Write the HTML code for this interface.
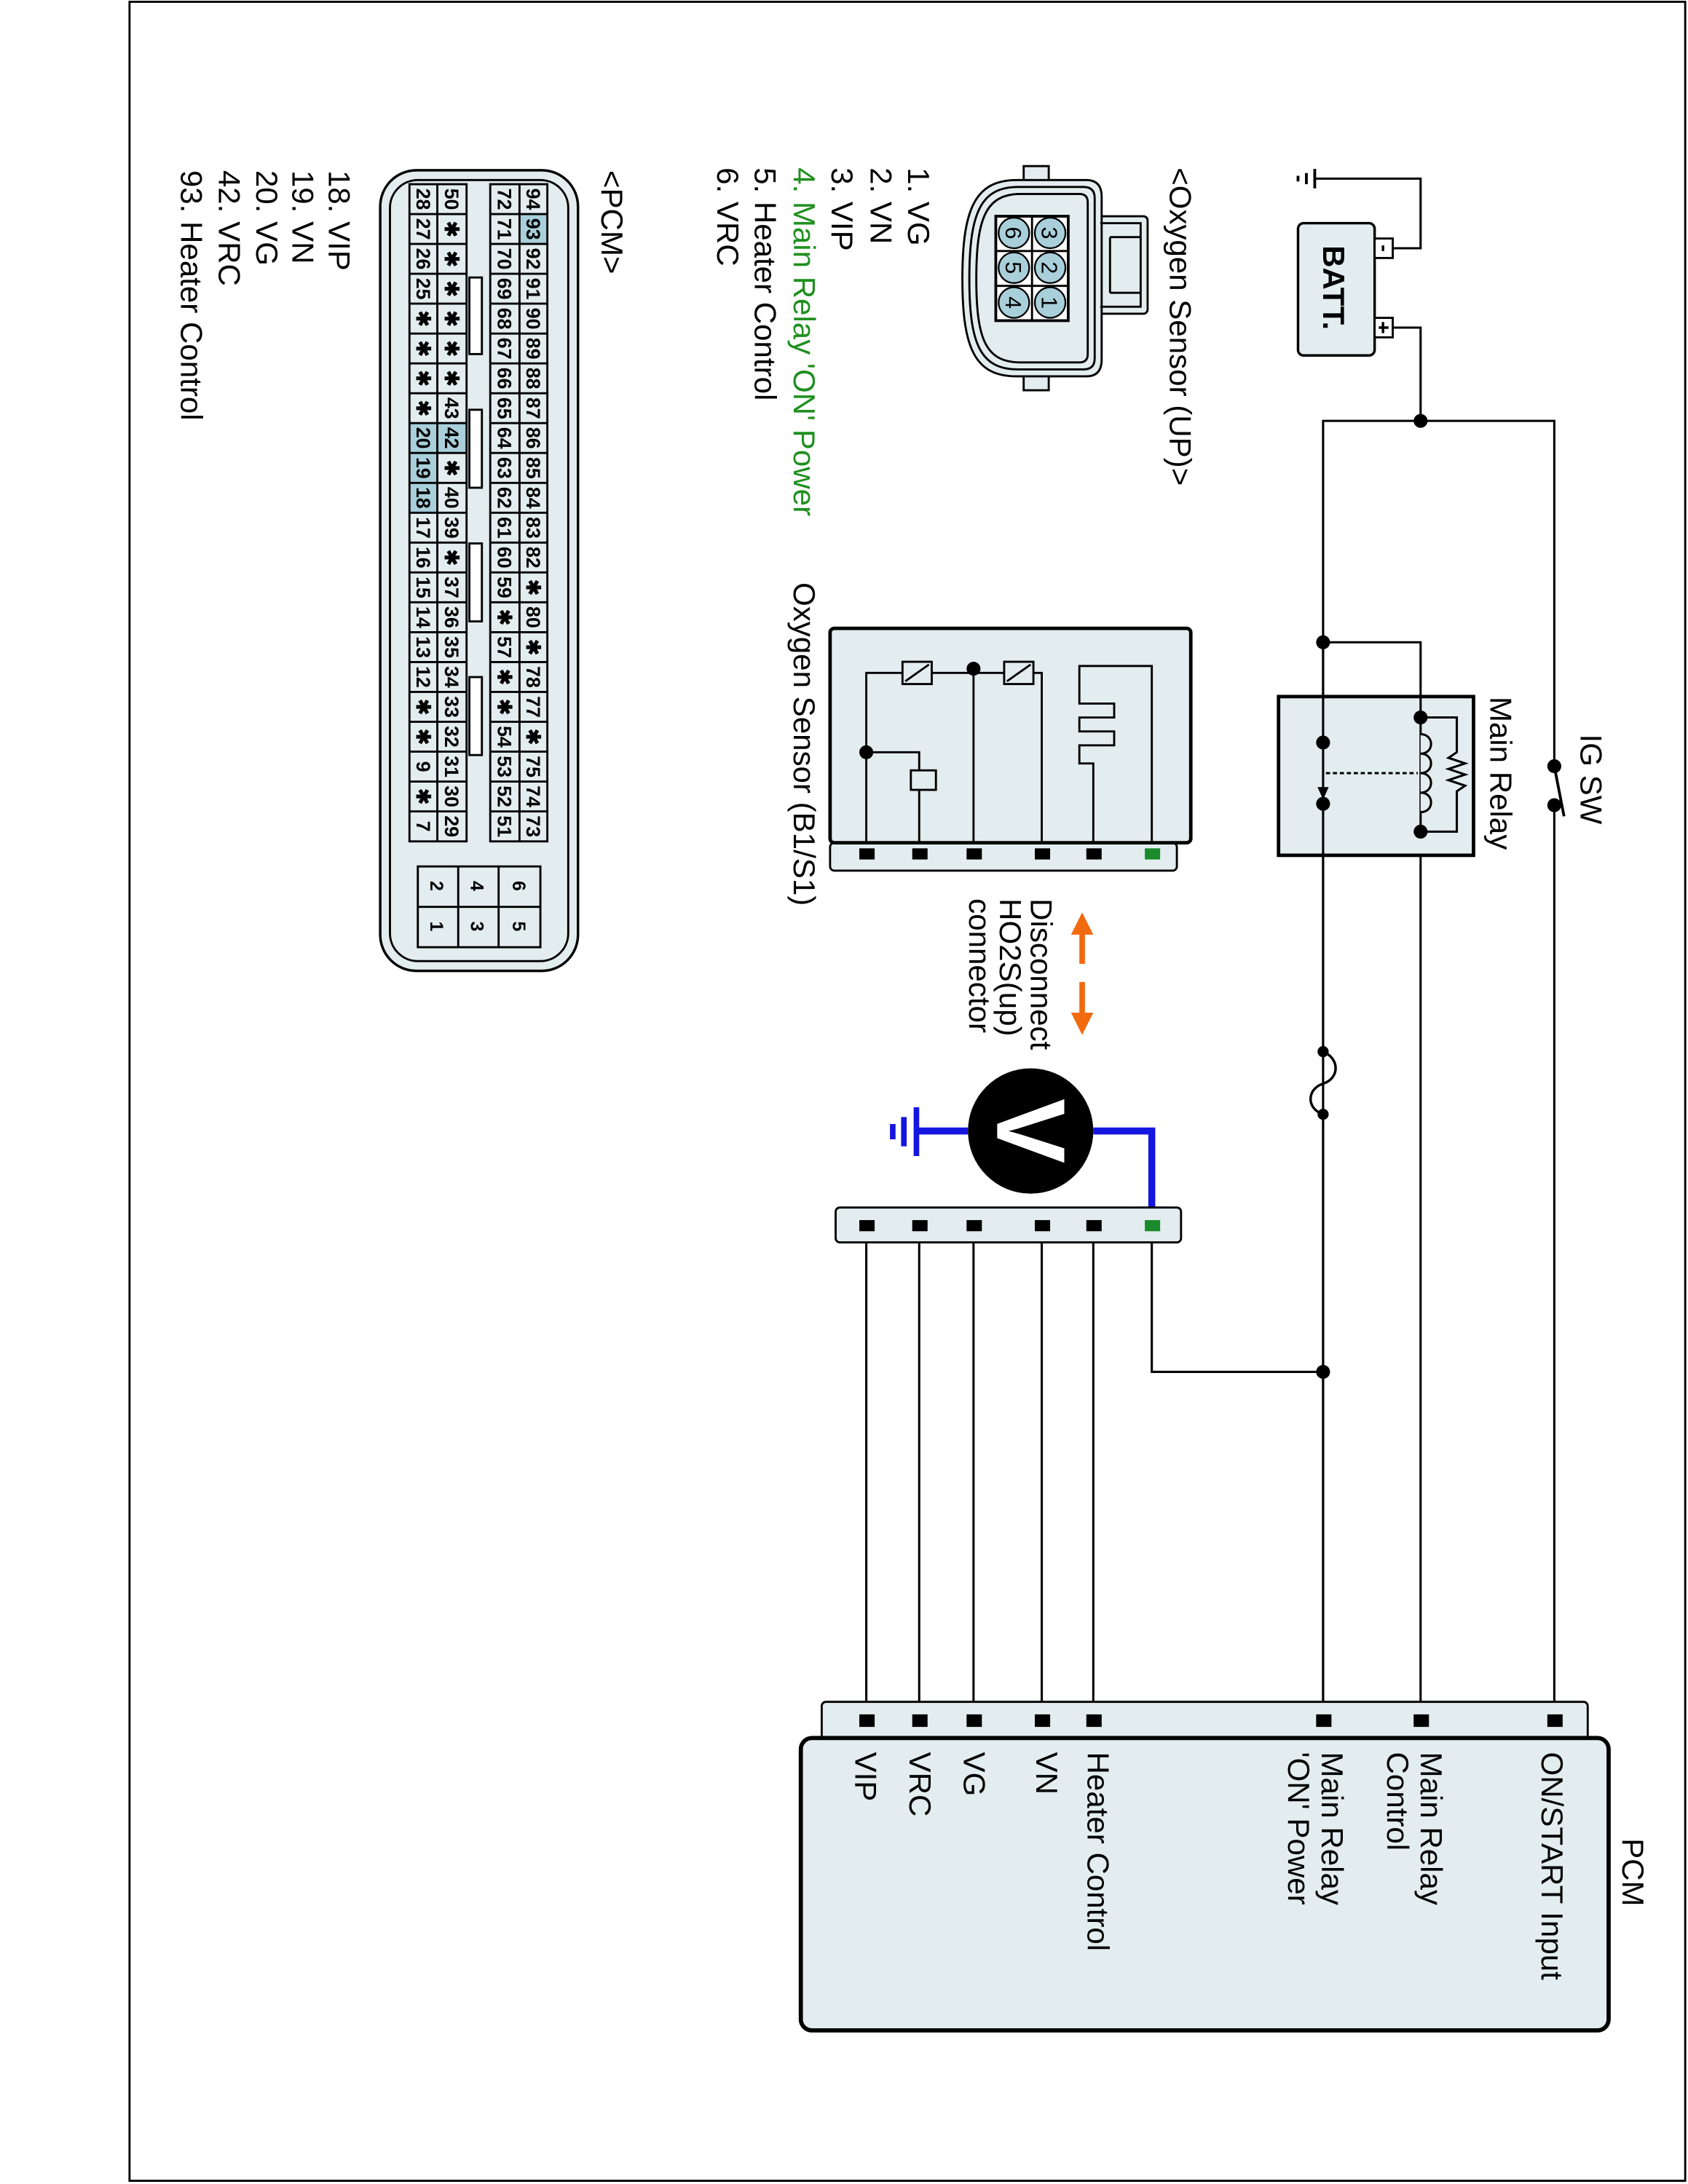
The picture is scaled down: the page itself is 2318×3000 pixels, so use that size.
<!DOCTYPE html>
<html><head><meta charset="utf-8"><style>
html,body{margin:0;padding:0;background:#fff}
svg{display:block}
text{font-family:"Liberation Sans",sans-serif}
.c{font-size:14px;font-weight:bold;text-anchor:middle}
.l{font-size:22px}
</style></head><body>
<svg width="2318" height="3000" viewBox="0 0 1212 1568" xmlns="http://www.w3.org/2000/svg">
<rect x="93" y="1" width="1117" height="1565" fill="none" stroke="#000" stroke-width="1.5"/>

<!-- wires -->
<g fill="none" stroke="#000" stroke-width="1.6">
<path d="M1000,178 H1020 V128 H944"/>
<path d="M944,121 V135 M938,124 V132 M932,126 V130" stroke-width="2"/>
<path d="M1000,235 H1020 V302"/>
<path d="M950,755 V302 H1116 V550"/>
<path d="M1116,578 V1235"/>
<path d="M1116,550 L1123,586" stroke-width="2"/>
<path d="M950,461 H1020 V515"/>
<path d="M1020,597 V1235"/>
<path d="M950,800 V1235"/>
<path d="M950,755 C962,760 962,774 950,778 C938,782 938,796 950,800" stroke-width="1.8"/>
<path d="M827,880 M827,892 V985 H950"/>
<path d="M622,880 V1235 M660,880 V1235 M699,880 V1235 M748,880 V1235 M785,880 V1235"/>
</g>

<!-- battery -->
<rect x="932" y="160" width="55" height="95" rx="4" fill="#e3edef" stroke="#000" stroke-width="1.8"/>
<rect x="987" y="171" width="13" height="14" fill="#fff" stroke="#000" stroke-width="1.5"/>
<rect x="987" y="228" width="13" height="14" fill="#fff" stroke="#000" stroke-width="1.5"/>
<path d="M993,176 V180 M990,235 H997 M993,231 V239" stroke="#000" stroke-width="1.8"/>
<text transform="translate(950,176) rotate(90)" style="font-size:22px;font-weight:bold">BATT.</text>

<!-- relay -->
<rect x="918" y="500" width="140" height="114" fill="#e3edef" stroke="#000" stroke-width="2.5"/>
<g fill="none" stroke="#000" stroke-width="1.6">
<path d="M950,461 V1235"/>
<path d="M1020,500 V597"/>
<path d="M1020,515 H1046 V540 l-6,4 l12,4 l-12,4 l12,4 l-12,4 l12,4 l-6,4 V597 H1020"/>
<path d="M1020,527 c10,0 10,14 0,14 c10,0 10,14 0,14 c10,0 10,14 0,14 c10,0 10,14 0,14" fill="#e3edef"/>
<path d="M952,555 H1018" stroke-dasharray="3,2"/>
</g>
<path d="M946,565 L954,565 L950,574 Z" fill="#000"/>
<g fill="#000">
<circle cx="1020" cy="302" r="5"/><circle cx="950" cy="461" r="5"/>
<circle cx="950" cy="533" r="5"/><circle cx="950" cy="577" r="5"/>
<circle cx="1020" cy="515" r="5"/><circle cx="1020" cy="597" r="5"/>
<circle cx="1116" cy="550" r="5"/><circle cx="1116" cy="578" r="5"/>
<circle cx="950" cy="755" r="4"/><circle cx="950" cy="800" r="4"/>
<circle cx="950" cy="985" r="5"/>
</g>
<text class="l" transform="translate(1070,500) rotate(90)">Main Relay</text>
<text class="l" transform="translate(1135,527) rotate(90)">IG SW</text>

<!-- sensor box -->
<rect x="596" y="605" width="249" height="20" rx="3" fill="#e3edef" stroke="#000" stroke-width="1.5"/>
<rect x="596" y="451" width="259" height="154" rx="3" fill="#e3edef" stroke="#000" stroke-width="2.5"/>
<g fill="none" stroke="#000" stroke-width="1.5">
<path d="M622,605 V483 H748 V605"/>
<path d="M699,480 V605"/>
<path d="M622,540 H660 V605"/>
<path d="M827,605 V478 H775 V505 H800 V515 H775 V525 H800 V535 H775 V548 H785 V605"/>
</g>
<g fill="#e3edef" stroke="#000" stroke-width="1.5">
<rect x="648" y="475" width="21" height="16"/><path d="M650,489 L667,477"/>
<rect x="721" y="475" width="21" height="16"/><path d="M723,489 L740,477"/>
<rect x="654" y="553" width="18" height="14"/>
</g>
<g fill="#000"><circle cx="699" cy="480" r="5"/><circle cx="622" cy="540" r="5"/></g>
<g fill="#000">
<rect x="617" y="609" width="11" height="8"/><rect x="655" y="609" width="11" height="8"/><rect x="694" y="609" width="11" height="8"/><rect x="743" y="609" width="11" height="8"/><rect x="780" y="609" width="11" height="8"/><rect x="822" y="609" width="11" height="8" fill="#1a8a2a"/>
</g>
<text class="l" transform="translate(570,418) rotate(90)">Oxygen Sensor (B1/S1)</text>

<!-- disconnect arrows -->
<g stroke="#f26a10" stroke-width="4" fill="#f26a10">
<path d="M777,692 V668" /><path d="M777,705 V730"/>
</g>
<path d="M777,655 L769,671 L785,671 Z M777,743 L769,727 L785,727 Z" fill="#f26a10"/>
<text class="l" transform="translate(740,645) rotate(90)">Disconnect</text>
<text class="l" transform="translate(718,645) rotate(90)">HO2S(up)</text>
<text class="l" transform="translate(696,645) rotate(90)">connector</text>

<!-- voltmeter -->
<path d="M827,880 V812 H785 M695,812 H658" fill="none" stroke="#1515e0" stroke-width="5"/>
<path d="M658,795 V830 M649,802 V823 M641,807 V818" stroke="#1515e0" stroke-width="4"/>
<circle cx="740" cy="812" r="45" fill="#000"/>
<text transform="translate(716,812) rotate(90)" text-anchor="middle" style="font-size:70px;font-weight:bold" fill="#fff">V</text>

<!-- harness connector -->
<rect x="600" y="867" width="248" height="25" rx="3" fill="#e3edef" stroke="#000" stroke-width="1.5"/>
<g fill="#000">
<rect x="617" y="876" width="11" height="8"/><rect x="655" y="876" width="11" height="8"/><rect x="694" y="876" width="11" height="8"/><rect x="743" y="876" width="11" height="8"/><rect x="780" y="876" width="11" height="8"/><rect x="822" y="876" width="11" height="8" fill="#1a8a2a"/>
</g>

<!-- PCM -->
<rect x="590" y="1222" width="550" height="30" rx="3" fill="#e3edef" stroke="#000" stroke-width="1.5"/>
<rect x="575" y="1248" width="580" height="210" rx="8" fill="#e3edef" stroke="#000" stroke-width="3"/>
<g fill="#000">
<rect x="617" y="1231" width="11" height="9"/><rect x="655" y="1231" width="11" height="9"/><rect x="694" y="1231" width="11" height="9"/><rect x="743" y="1231" width="11" height="9"/><rect x="780" y="1231" width="11" height="9"/><rect x="945" y="1231" width="11" height="9"/><rect x="1015" y="1231" width="11" height="9"/><rect x="1111" y="1231" width="11" height="9"/>
</g>
<text class="l" transform="translate(1165,1320) rotate(90)">PCM</text>
<text class="l" transform="translate(1107,1258) rotate(90)">ON/START Input</text>
<text class="l" transform="translate(1020,1258) rotate(90)">Main Relay</text>
<text class="l" transform="translate(996,1258) rotate(90)">Control</text>
<text class="l" transform="translate(949,1258) rotate(90)">Main Relay</text>
<text class="l" transform="translate(925,1258) rotate(90)">'ON' Power</text>
<text class="l" transform="translate(781,1258) rotate(90)">Heater Control</text>
<text class="l" transform="translate(744,1258) rotate(90)">VN</text>
<text class="l" transform="translate(692,1258) rotate(90)">VG</text>
<text class="l" transform="translate(653,1258) rotate(90)">VRC</text>
<text class="l" transform="translate(614,1258) rotate(90)">VIP</text>

<!-- O2 sensor UP connector -->
<g stroke="#000" stroke-width="1.5" fill="#e3edef">
<rect x="735" y="119" width="18" height="14"/>
<rect x="735" y="266" width="18" height="14"/>
<rect x="785" y="155" width="39" height="70" rx="3"/>
<path d="M780,129 H730 C700,129 691,150 691,200 C691,250 700,270 730,270 H780 Q791,270 791,258 V141 Q791,129 780,129 Z"/>
<path d="M778,134 H731 C704,134 696,153 696,200 C696,247 704,265 731,265 H778 Q786,265 786,257 V142 Q786,134 778,134 Z" fill="none"/>
<path d="M775,139 H733 C708,139 701,156 701,200 C701,244 708,260 733,260 H775 Q781,260 781,254 V145 Q781,139 775,139 Z" fill="none"/>
<path d="M790,160 H819 V220 H790 M797,170 H819 M797,210 H819 M797,170 V210" fill="none"/>
<rect x="715" y="155" width="52" height="75" fill="#fff" stroke-width="2"/>
<path d="M741,155 V230 M715,180 H767 M715,205 H767" fill="none"/>
</g>
<g fill="#a9cfda" stroke="#000" stroke-width="1.2">
<circle cx="754" cy="167" r="11"/><circle cx="754" cy="192" r="11"/><circle cx="754" cy="217" r="11"/>
<circle cx="728" cy="167" r="11"/><circle cx="728" cy="192" r="11"/><circle cx="728" cy="217" r="11"/>
</g>
<g style="font-size:16px;text-anchor:middle">
<text transform="translate(754,167) rotate(90)" dy="6">3</text>
<text transform="translate(754,192) rotate(90)" dy="6">2</text>
<text transform="translate(754,217) rotate(90)" dy="6">1</text>
<text transform="translate(728,167) rotate(90)" dy="6">6</text>
<text transform="translate(728,192) rotate(90)" dy="6">5</text>
<text transform="translate(728,217) rotate(90)" dy="6">4</text>
</g>

<text class="l" transform="translate(840,120) rotate(90)">&lt;Oxygen Sensor (UP)&gt;</text>
<text class="l" transform="translate(652,120) rotate(90)">1. VG</text>
<text class="l" transform="translate(625,120) rotate(90)">2. VN</text>
<text class="l" transform="translate(597,120) rotate(90)">3. VIP</text>
<text class="l" transform="translate(570,120) rotate(90)" fill="#1f8f1f">4. Main Relay  'ON' Power</text>
<text class="l" transform="translate(542,120) rotate(90)">5. Heater Control</text>
<text class="l" transform="translate(515,120) rotate(90)">6. VRC</text>
<text class="l" transform="translate(432,122) rotate(90)">&lt;PCM&gt;</text>
<text class="l" transform="translate(236,122) rotate(90)">18. VIP</text>
<text class="l" transform="translate(210,122) rotate(90)">19. VN</text>
<text class="l" transform="translate(184,122) rotate(90)">20. VG</text>
<text class="l" transform="translate(157,122) rotate(90)">42. VRC</text>
<text class="l" transform="translate(130,122) rotate(90)">93. Heater Control</text>

<!-- PCM connector -->
<rect x="273" y="122" width="142" height="575" rx="26" fill="#e3edef" stroke="#000" stroke-width="1.8"/>
<rect x="280" y="129" width="128" height="561" rx="20" fill="none" stroke="#000" stroke-width="1.5"/>
<g fill="#a9cfda">
<rect x="373" y="153.45" width="20" height="21.45"/>
<rect x="314" y="303.6" width="21" height="21.45"/>
<rect x="294" y="303.6" width="20" height="64.35"/>
</g>
<g fill="none" stroke="#000" stroke-width="1.5">
<rect x="294" y="132" width="41" height="472"/>
<rect x="352" y="132" width="41" height="472"/>
<path d="M314,132 V604 M373,132 V604"/>
<path d="M294,153.45H335M294,174.9H335M294,196.35H335M294,217.8H335M294,239.25H335M294,260.7H335M294,282.15H335M294,303.6H335M294,325.05H335M294,346.5H335M294,367.95H335M294,389.4H335M294,410.85H335M294,432.3H335M294,453.75H335M294,475.2H335M294,496.65H335M294,518.1H335M294,539.55H335M294,561H335M294,582.45H335"/>
<path d="M352,153.45H393M352,174.9H393M352,196.35H393M352,217.8H393M352,239.25H393M352,260.7H393M352,282.15H393M352,303.6H393M352,325.05H393M352,346.5H393M352,367.95H393M352,389.4H393M352,410.85H393M352,432.3H393M352,453.75H393M352,475.2H393M352,496.65H393M352,518.1H393M352,539.55H393M352,561H393M352,582.45H393"/>
<rect x="300" y="622" width="88" height="58"/>
<path d="M329,622 V680 M358,622 V680 M300,651 H388"/>
</g>
<g fill="#fff" stroke="#000" stroke-width="1.5">
<rect x="337" y="199" width="9" height="55"/><rect x="337" y="294" width="9" height="56"/><rect x="337" y="390" width="9" height="56"/><rect x="337" y="486" width="9" height="56"/>
</g>
<g class="c" style="font-size:13px">
<text transform="translate(314,636) rotate(90)" dy="5">2</text><text transform="translate(314,665) rotate(90)" dy="5">1</text>
<text transform="translate(343,636) rotate(90)" dy="5">4</text><text transform="translate(343,665) rotate(90)" dy="5">3</text>
<text transform="translate(373,636) rotate(90)" dy="5">6</text><text transform="translate(373,665) rotate(90)" dy="5">5</text>
</g>
<!-- row1 -->
<g class="c" transform="translate(383,0)">
<text transform="translate(0,142.7) rotate(90)" dy="5">94</text><text transform="translate(0,164.2) rotate(90)" dy="5">93</text><text transform="translate(0,185.6) rotate(90)" dy="5">92</text><text transform="translate(0,207.1) rotate(90)" dy="5">91</text><text transform="translate(0,228.5) rotate(90)" dy="5">90</text><text transform="translate(0,250) rotate(90)" dy="5">89</text><text transform="translate(0,271.4) rotate(90)" dy="5">88</text><text transform="translate(0,292.9) rotate(90)" dy="5">87</text><text transform="translate(0,314.3) rotate(90)" dy="5">86</text><text transform="translate(0,335.8) rotate(90)" dy="5">85</text><text transform="translate(0,357.2) rotate(90)" dy="5">84</text><text transform="translate(0,378.7) rotate(90)" dy="5">83</text><text transform="translate(0,400.1) rotate(90)" dy="5">82</text><text transform="translate(0,421.6) rotate(90)" dy="5">✱</text><text transform="translate(0,443) rotate(90)" dy="5">80</text><text transform="translate(0,464.5) rotate(90)" dy="5">✱</text><text transform="translate(0,485.9) rotate(90)" dy="5">78</text><text transform="translate(0,507.4) rotate(90)" dy="5">77</text><text transform="translate(0,528.8) rotate(90)" dy="5">✱</text><text transform="translate(0,550.3) rotate(90)" dy="5">75</text><text transform="translate(0,571.7) rotate(90)" dy="5">74</text><text transform="translate(0,593.2) rotate(90)" dy="5">73</text>
</g>
<!-- row2 -->
<g class="c" transform="translate(362.5,0)">
<text transform="translate(0,142.7) rotate(90)" dy="5">72</text><text transform="translate(0,164.2) rotate(90)" dy="5">71</text><text transform="translate(0,185.6) rotate(90)" dy="5">70</text><text transform="translate(0,207.1) rotate(90)" dy="5">69</text><text transform="translate(0,228.5) rotate(90)" dy="5">68</text><text transform="translate(0,250) rotate(90)" dy="5">67</text><text transform="translate(0,271.4) rotate(90)" dy="5">66</text><text transform="translate(0,292.9) rotate(90)" dy="5">65</text><text transform="translate(0,314.3) rotate(90)" dy="5">64</text><text transform="translate(0,335.8) rotate(90)" dy="5">63</text><text transform="translate(0,357.2) rotate(90)" dy="5">62</text><text transform="translate(0,378.7) rotate(90)" dy="5">61</text><text transform="translate(0,400.1) rotate(90)" dy="5">60</text><text transform="translate(0,421.6) rotate(90)" dy="5">59</text><text transform="translate(0,443) rotate(90)" dy="5">✱</text><text transform="translate(0,464.5) rotate(90)" dy="5">57</text><text transform="translate(0,485.9) rotate(90)" dy="5">✱</text><text transform="translate(0,507.4) rotate(90)" dy="5">✱</text><text transform="translate(0,528.8) rotate(90)" dy="5">54</text><text transform="translate(0,550.3) rotate(90)" dy="5">53</text><text transform="translate(0,571.7) rotate(90)" dy="5">52</text><text transform="translate(0,593.2) rotate(90)" dy="5">51</text>
</g>
<!-- row3 -->
<g class="c" transform="translate(324.5,0)">
<text transform="translate(0,142.7) rotate(90)" dy="5">50</text><text transform="translate(0,164.2) rotate(90)" dy="5">✱</text><text transform="translate(0,185.6) rotate(90)" dy="5">✱</text><text transform="translate(0,207.1) rotate(90)" dy="5">✱</text><text transform="translate(0,228.5) rotate(90)" dy="5">✱</text><text transform="translate(0,250) rotate(90)" dy="5">✱</text><text transform="translate(0,271.4) rotate(90)" dy="5">✱</text><text transform="translate(0,292.9) rotate(90)" dy="5">43</text><text transform="translate(0,314.3) rotate(90)" dy="5">42</text><text transform="translate(0,335.8) rotate(90)" dy="5">✱</text><text transform="translate(0,357.2) rotate(90)" dy="5">40</text><text transform="translate(0,378.7) rotate(90)" dy="5">39</text><text transform="translate(0,400.1) rotate(90)" dy="5">✱</text><text transform="translate(0,421.6) rotate(90)" dy="5">37</text><text transform="translate(0,443) rotate(90)" dy="5">36</text><text transform="translate(0,464.5) rotate(90)" dy="5">35</text><text transform="translate(0,485.9) rotate(90)" dy="5">34</text><text transform="translate(0,507.4) rotate(90)" dy="5">33</text><text transform="translate(0,528.8) rotate(90)" dy="5">32</text><text transform="translate(0,550.3) rotate(90)" dy="5">31</text><text transform="translate(0,571.7) rotate(90)" dy="5">30</text><text transform="translate(0,593.2) rotate(90)" dy="5">29</text>
</g>
<!-- row4 -->
<g class="c" transform="translate(304,0)">
<text transform="translate(0,142.7) rotate(90)" dy="5">28</text><text transform="translate(0,164.2) rotate(90)" dy="5">27</text><text transform="translate(0,185.6) rotate(90)" dy="5">26</text><text transform="translate(0,207.1) rotate(90)" dy="5">25</text><text transform="translate(0,228.5) rotate(90)" dy="5">✱</text><text transform="translate(0,250) rotate(90)" dy="5">✱</text><text transform="translate(0,271.4) rotate(90)" dy="5">✱</text><text transform="translate(0,292.9) rotate(90)" dy="5">✱</text><text transform="translate(0,314.3) rotate(90)" dy="5">20</text><text transform="translate(0,335.8) rotate(90)" dy="5">19</text><text transform="translate(0,357.2) rotate(90)" dy="5">18</text><text transform="translate(0,378.7) rotate(90)" dy="5">17</text><text transform="translate(0,400.1) rotate(90)" dy="5">16</text><text transform="translate(0,421.6) rotate(90)" dy="5">15</text><text transform="translate(0,443) rotate(90)" dy="5">14</text><text transform="translate(0,464.5) rotate(90)" dy="5">13</text><text transform="translate(0,485.9) rotate(90)" dy="5">12</text><text transform="translate(0,507.4) rotate(90)" dy="5">✱</text><text transform="translate(0,528.8) rotate(90)" dy="5">✱</text><text transform="translate(0,550.3) rotate(90)" dy="5">9</text><text transform="translate(0,571.7) rotate(90)" dy="5">✱</text><text transform="translate(0,593.2) rotate(90)" dy="5">7</text>
</g>
</svg>
</body></html>
